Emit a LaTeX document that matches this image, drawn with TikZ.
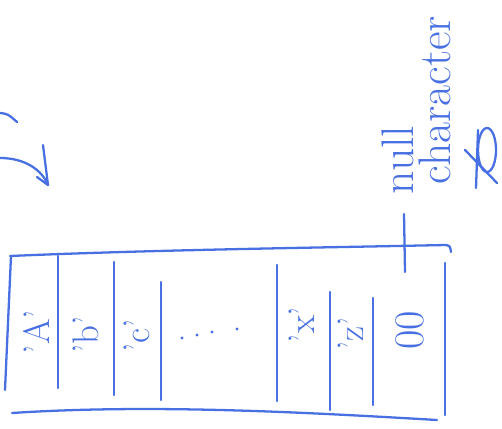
\documentclass[tikz,border=0pt]{standalone}
\usetikzlibrary{positioning}
\definecolor{penblue}{RGB}{72,112,226}
\begin{document}
\begin{tikzpicture}[x=0.02cm,y=-0.02cm,
                    ink/.style={draw=penblue,line width=1.3pt,line cap=round,line join=round},
                    chr/.style={text=penblue,rotate=90,font=\fontsize{21}{23}\selectfont,inner sep=1pt},
                    lbl/.style={text=penblue,rotate=90,font=\fontsize{26}{28}\selectfont,inner sep=0pt}]
  \useasboundingbox (0,0) rectangle (502,428);
  % array outline
  \draw[ink] (10,256) .. controls (150,250) and (300,248) .. (446,245) .. controls (450,246) .. (451,252);
  \draw[ink] (12,413) .. controls (150,404) and (300,412) .. (437,420);
  \draw[ink] (11,256) -- (5,390);
  \foreach \x/\a/\b in {58/256/388, 114/262/395, 161/282/400, 277/265/401, 330/292/410, 373/298/405, 445/263/415}
    \draw[ink] (\x,\a) -- (\x,\b);
  % cells
  \node[chr] (ca) at (36,332) {'A'};
  \node[chr] (cb) at (86,335) {'b'};
  \node[chr] (cc) at (137,336) {'c'};
  \foreach \x/\y in {182/338, 197/335, 212/332, 237/329}
    \fill[penblue] (\x,\y) circle [radius=1.6];
  \node[chr] (cx) at (302,325) {'x'};
  \node[chr] (cz) at (351,334) {'z'};
  \node[chr,font=\fontsize{24}{26}\selectfont] (nul) at (410,330) {00};
  % null character label
  \node[lbl] (null) at (398,160) {null};
  \node[lbl] (chars) at (435,100) {character};
  \coordinate (ptr) at (404,214);
  \coordinate (tick) at (405,272);
  \draw[ink] (ptr) -- (tick);
  % scribble
  \draw[ink] (487,150) ellipse [x radius=9,y radius=22];
  \draw[ink] (465,150) -- (497,183);
  \draw[ink] (478,130) -- (476,188);
  % arrow
  \coordinate (s) at (0,158);
  \coordinate (t) at (48,185);
  \draw[ink] (s) .. controls (25,158) and (42,170) .. (t);
  \draw[ink] (43,145) -- (t) -- (37,177);
  \draw[ink] (0,113) .. controls (8,114) .. (17,122);
\end{tikzpicture}
\end{document}
